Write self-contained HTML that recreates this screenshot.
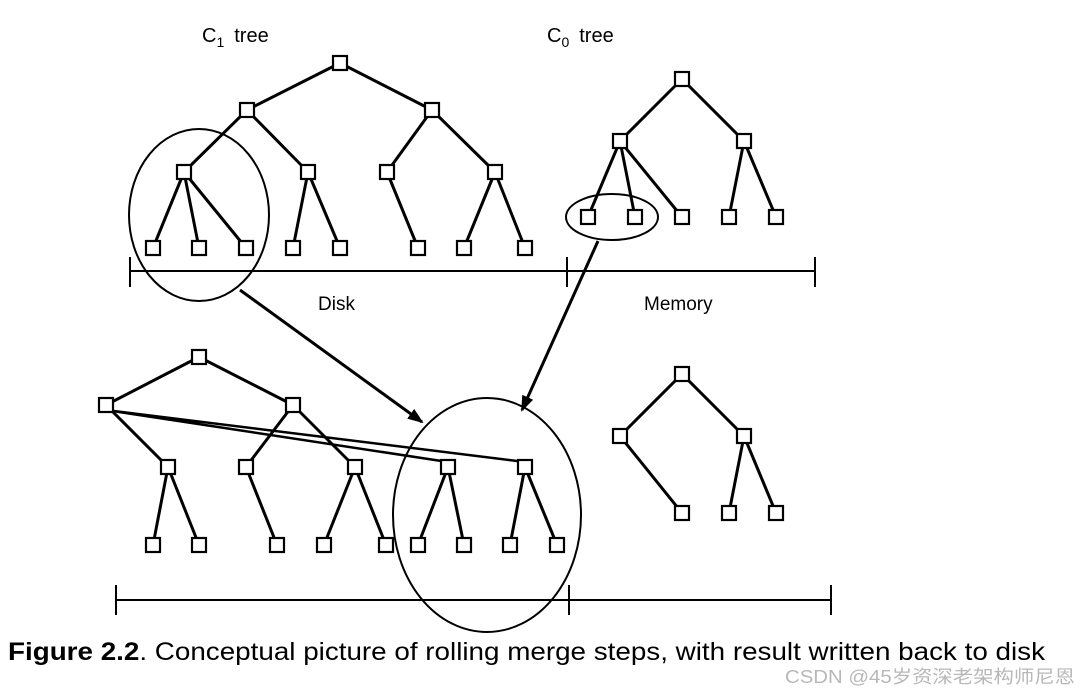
<!DOCTYPE html>
<html><head><meta charset="utf-8"><style>body{margin:0;background:#fff}svg{display:block}</style></head><body>
<svg width="1080" height="693" viewBox="0 0 1080 693" xmlns="http://www.w3.org/2000/svg" font-family="Liberation Sans, sans-serif">
<defs><marker id="ah" markerWidth="16" markerHeight="12" refX="14" refY="6" orient="auto" markerUnits="userSpaceOnUse"><path d="M0,0 L16,6 L0,12 Z" fill="#000"/></marker></defs>
<g stroke="#000" stroke-width="3" fill="none">
<path d="M340,63L247,110M340,63L432,110M247,110L184,172M247,110L308,172M432,110L387,172M432,110L495,172
M184,172L153,248M184,172L199,248M184,172L246,248M308,172L293,248M308,172L340,248M387,172L418,248M495,172L464,248M495,172L525,248"/>
<path d="M682,79L620,141M682,79L744,141M620,141L588,217M620,141L635,217M620,141L682,217M744,141L729,217M744,141L776,217"/>
<path d="M199,357L106,405M199,357L293,405M106,405L168,467M293,405L246,467M293,405L355,467
M168,467L153,545M168,467L199,545M246,467L277,545M355,467L324,545M355,467L386,545M448,467L418,545M448,467L464,545M525,467L510,545M525,467L557,545"/>
<path d="M106,410L448,462M106,410L525,462" stroke-width="2.5"/>
<path d="M682,374L620,436M682,374L744,436M620,436L682,513M744,436L729,513M744,436L776,513"/>
</g>
<g stroke="#000" stroke-width="2" fill="none">
<path d="M130,271H815M130,257V287M567,257V287M815,257V287"/>
<path d="M116,600H831M116,585V615M569,585V615M831,585V615"/>
<ellipse cx="199" cy="215" rx="70" ry="86"/>
<ellipse cx="612" cy="217" rx="46" ry="23"/>
<ellipse cx="487" cy="515" rx="94" ry="117"/>
</g>
<g stroke="#000" stroke-width="3">
<line x1="240" y1="290" x2="422" y2="422" marker-end="url(#ah)"/>
<line x1="598" y1="241" x2="522" y2="410" marker-end="url(#ah)"/>
</g>
<g fill="#fff" stroke="#000" stroke-width="2.2">
<rect x="333" y="56" width="14" height="14"/><rect x="240" y="103" width="14" height="14"/><rect x="425" y="103" width="14" height="14"/>
<rect x="177" y="165" width="14" height="14"/><rect x="301" y="165" width="14" height="14"/><rect x="380" y="165" width="14" height="14"/><rect x="488" y="165" width="14" height="14"/>
<rect x="146" y="241" width="14" height="14"/><rect x="192" y="241" width="14" height="14"/><rect x="239" y="241" width="14" height="14"/><rect x="286" y="241" width="14" height="14"/><rect x="333" y="241" width="14" height="14"/><rect x="411" y="241" width="14" height="14"/><rect x="457" y="241" width="14" height="14"/><rect x="518" y="241" width="14" height="14"/>
<rect x="675" y="72" width="14" height="14"/><rect x="613" y="134" width="14" height="14"/><rect x="737" y="134" width="14" height="14"/>
<rect x="581" y="210" width="14" height="14"/><rect x="628" y="210" width="14" height="14"/><rect x="675" y="210" width="14" height="14"/><rect x="722" y="210" width="14" height="14"/><rect x="769" y="210" width="14" height="14"/>
<rect x="192" y="350" width="14" height="14"/><rect x="99" y="398" width="14" height="14"/><rect x="286" y="398" width="14" height="14"/>
<rect x="161" y="460" width="14" height="14"/><rect x="239" y="460" width="14" height="14"/><rect x="348" y="460" width="14" height="14"/><rect x="441" y="460" width="14" height="14"/><rect x="518" y="460" width="14" height="14"/>
<rect x="146" y="538" width="14" height="14"/><rect x="192" y="538" width="14" height="14"/><rect x="270" y="538" width="14" height="14"/><rect x="317" y="538" width="14" height="14"/><rect x="379" y="538" width="14" height="14"/><rect x="411" y="538" width="14" height="14"/><rect x="457" y="538" width="14" height="14"/><rect x="503" y="538" width="14" height="14"/><rect x="550" y="538" width="14" height="14"/>
<rect x="675" y="367" width="14" height="14"/><rect x="613" y="429" width="14" height="14"/><rect x="737" y="429" width="14" height="14"/>
<rect x="675" y="506" width="14" height="14"/><rect x="722" y="506" width="14" height="14"/><rect x="769" y="506" width="14" height="14"/>
</g>
<g fill="#000" font-size="20">
<text x="202" y="42">C<tspan font-size="14" dy="5">1</tspan><tspan dy="-5" dx="10">tree</tspan></text>
<text x="547" y="42">C<tspan font-size="14" dy="5">0</tspan><tspan dy="-5" dx="10">tree</tspan></text>
<text x="318" y="310" font-size="19">Disk</text>
<text x="644" y="310" font-size="19">Memory</text>
<text x="8" y="660" font-size="25" textLength="1037" lengthAdjust="spacingAndGlyphs"><tspan font-weight="bold">Figure 2.2</tspan>. Conceptual picture of rolling merge steps, with result written back to disk</text>
</g>
<text x="785" y="683" font-size="18" fill="#b8b8b8" font-family="Liberation Sans, Noto Sans CJK SC, sans-serif" textLength="290" lengthAdjust="spacingAndGlyphs">CSDN @45岁资深老架构师尼恩</text>
</svg>
</body></html>
